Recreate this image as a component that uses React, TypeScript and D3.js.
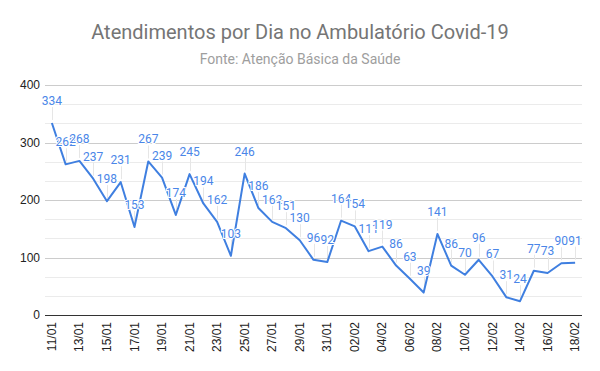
import React, { useEffect, useRef } from 'react';
import * as d3 from 'd3';

const days = [
  '11/01', '12/01', '13/01', '14/01', '15/01', '16/01', '17/01', '18/01', '19/01', '20/01',
  '21/01', '22/01', '23/01', '24/01', '25/01', '26/01', '27/01', '28/01', '29/01', '30/01',
  '31/01', '01/02', '02/02', '03/02', '04/02', '05/02', '06/02', '07/02', '08/02', '09/02',
  '10/02', '11/02', '12/02', '13/02', '14/02', '15/02', '16/02', '17/02', '18/02'
];
const atendimentos = [
  334, 262, 268, 237, 198, 231, 153, 267, 239, 174,
  245, 194, 162, 103, 246, 186, 162, 151, 130, 96,
  92, 164, 154, 111, 119, 86, 63, 39, 141, 86,
  70, 96, 67, 31, 24, 77, 73, 90, 91
];
const majorTicks = [0, 100, 200, 300, 400];
const minorTicks = d3.range(0, 400, 100 / 3);

const App: React.FC = () => {
  const ref = useRef<SVGSVGElement>(null);

  useEffect(() => {
    if (!ref.current) return;
    const svg = d3.select(ref.current);
    svg.selectAll('*').remove();

    const left = 45, right = 582, top = 85, bottom = 315;
    const x = d3.scalePoint<string>().domain(days).range([left, right]).padding(0.5);
    const y = d3.scaleLinear().domain([0, 400]).range([bottom, top]);

    svg.append('rect').attr('width', 600).attr('height', 371).attr('fill', '#fff');

    // title
    svg.append('text')
      .attr('x', 300).attr('y', 39)
      .attr('text-anchor', 'middle')
      .attr('font-family', 'Roboto, sans-serif')
      .attr('font-size', 20)
      .attr('fill', '#757575')
      .text('Atendimentos por Dia no Ambulatório Covid-19');
    svg.append('text')
      .attr('x', 300).attr('y', 64)
      .attr('text-anchor', 'middle')
      .attr('font-family', 'Roboto, sans-serif')
      .attr('font-size', 14)
      .attr('fill', '#9e9e9e')
      .text('Fonte: Atenção Básica da Saúde');

    // grid
    svg.append('g').selectAll('line')
      .data(minorTicks.filter(t => !majorTicks.includes(Math.round(t))))
      .join('line')
      .attr('x1', left).attr('x2', right)
      .attr('y1', d => Math.round(y(d)) + 0.5).attr('y2', d => Math.round(y(d)) + 0.5)
      .attr('stroke', '#ebebeb');
    svg.append('g').selectAll('line')
      .data(majorTicks.slice(1))
      .join('line')
      .attr('x1', left).attr('x2', right)
      .attr('y1', d => Math.round(y(d)) + 0.5).attr('y2', d => Math.round(y(d)) + 0.5)
      .attr('stroke', '#cccccc');

    // y labels
    svg.append('g').selectAll('text')
      .data(majorTicks)
      .join('text')
      .attr('x', 40).attr('y', d => y(d) + 4)
      .attr('text-anchor', 'end')
      .attr('font-family', 'Arial, "Liberation Sans", sans-serif')
      .attr('font-size', 12)
      .attr('fill', '#222')
      .text(d => d);

    // x labels
    svg.append('g').selectAll('text')
      .data(days.filter((_, i) => i % 2 === 0))
      .join('text')
      .attr('transform', d => `translate(${(x(d) ?? 0) + 4},${bottom + 7}) rotate(-90)`)
      .attr('text-anchor', 'end')
      .attr('font-family', 'Arial, "Liberation Sans", sans-serif')
      .attr('font-size', 12)
      .attr('fill', '#222')
      .text(d => d);

    // baseline
    svg.append('line')
      .attr('x1', left).attr('x2', right)
      .attr('y1', bottom + 0.5).attr('y2', bottom + 0.5)
      .attr('stroke', '#333');

    // leader lines
    svg.append('g').selectAll('line')
      .data(atendimentos)
      .join('line')
      .attr('x1', (_, i) => Math.round(x(days[i]) ?? 0) + 0.5)
      .attr('x2', (_, i) => Math.round(x(days[i]) ?? 0) + 0.5)
      .attr('y1', d => y(d) - 3)
      .attr('y2', d => y(d) - 16)
      .attr('stroke', '#e6e6e6');

    // line
    const line = d3.line<number>()
      .x((_, i) => x(days[i]) ?? 0)
      .y(d => y(d));
    svg.append('path')
      .datum(atendimentos)
      .attr('d', line)
      .attr('fill', 'none')
      .attr('stroke', '#3f7fe0')
      .attr('stroke-width', 2)
      .attr('stroke-linejoin', 'round');

    // data labels
    svg.append('g').selectAll('text')
      .data(atendimentos)
      .join('text')
      .attr('x', (_, i) => x(days[i]) ?? 0)
      .attr('y', d => y(d) - 18)
      .attr('text-anchor', 'middle')
      .attr('font-family', 'Roboto, sans-serif')
      .attr('font-size', 12)
      .attr('fill', '#4a86e8')
      .attr('stroke', '#fff')
      .attr('stroke-width', 2)
      .attr('paint-order', 'stroke')
      .text(d => d);
  }, []);

  return <svg ref={ref} width={600} height={371} style={{ display: 'block', margin: -8 }} />;
};

export default App;
